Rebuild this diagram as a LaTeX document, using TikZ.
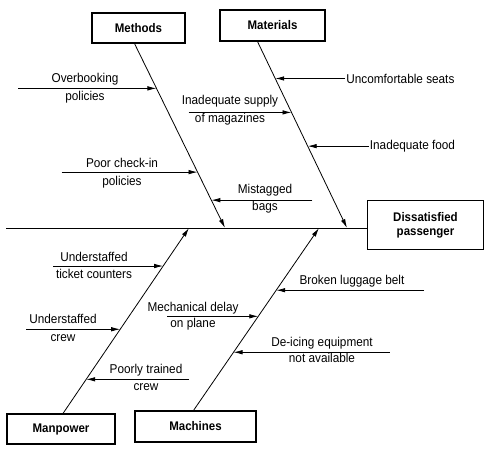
\documentclass[tikz,border=0pt]{standalone}
\usepackage{fontspec}
\setmainfont[FakeStretch=0.92]{Liberation Sans}
\usetikzlibrary{arrows.meta,positioning,calc}

\begin{document}
\begin{tikzpicture}[x=1pt,y=-1pt,
		catbox/.style={rectangle, draw, line width=1.1pt, inner sep=2pt, align=center, font=\fontsize{12.5}{14}\selectfont\bfseries},
		bone/.style={line width=0.8pt, -{Latex[length=9pt,width=4.5pt]}},
		cause/.style={inner sep=1pt, align=center, font=\fontsize{12.8}{14}\selectfont}]
		\useasboundingbox (0,0) rectangle (488,453);
		\node at (138.5,28) [catbox, minimum width=93pt, minimum height=30pt] (Methods) {Methods};
		\node at (272.5,25.5) [catbox, minimum width=105pt, minimum height=31pt] (Materials) {Materials};
		\node at (425.5,225) [catbox, minimum width=116pt, minimum height=49pt] (Effect) {Dissatisfied\\[0pt]passenger};
		\node at (61,429) [catbox, minimum width=108pt, minimum height=30pt] (Manpower) {Manpower};
		\node at (195.5,426.5) [catbox, minimum width=121pt, minimum height=31pt] (Machines) {Machines};
		\coordinate (tail) at (6,228);
		\draw[line width=0.8pt] (tail) -- (tail -| Effect.west);
		\coordinate (m0) at ([xshift=-4pt]Methods.south);
		\coordinate (m1) at (225,228);
		\coordinate (a0) at ([xshift=-15pt]Materials.south);
		\coordinate (a1) at (347,228);
		\coordinate (p0) at ([xshift=2pt]Manpower.north);
		\coordinate (p1) at (189,228);
		\coordinate (c0) at ([xshift=-2pt]Machines.north);
		\coordinate (c1) at (319,228);
		\draw[bone] (m0) -- (m1);
		\draw[bone] (a0) -- (a1);
		\draw[bone] (p0) -- (p1);
		\draw[bone] (c0) -- (c1);
		\path (m0) -- (m1) coordinate[pos=0.243] (ob) coordinate[pos=0.697] (pc) coordinate[pos=0.849] (mb);
		\path (a0) -- (a1) coordinate[pos=0.198] (us) coordinate[pos=0.380] (im) coordinate[pos=0.561] (if);
		\path (p0) -- (p1) coordinate[pos=0.795] (tc) coordinate[pos=0.454] (uc) coordinate[pos=0.184] (pt);
		\path (c0) -- (c1) coordinate[pos=0.659] (bl) coordinate[pos=0.516] (md) coordinate[pos=0.319] (de);
		\coordinate[left=138pt of ob] (ob0);
		\coordinate[left=136pt of pc] (pc0);
		\coordinate[right=101pt of mb] (mb0);
		\coordinate[right=70pt of us] (us0);
		\coordinate[left=103pt of im] (im0);
		\coordinate[right=61pt of if] (if0);
		\coordinate[left=110pt of tc] (tc0);
		\coordinate[left=94pt of uc] (uc0);
		\coordinate[right=103pt of pt] (pt0);
		\coordinate[right=148pt of bl] (bl0);
		\coordinate[left=91pt of md] (md0);
		\coordinate[right=156pt of de] (de0);
		\foreach \c in {ob,pc,mb,us,im,if,tc,uc,pt,bl,md,de}
			\draw[bone] (\c0) -- (\c);
		\node at (85,88) [cause] (obt) {Overbooking\\[4pt]policies};
		\node at (122,173) [cause] (pct) {Poor check-in\\[4pt]policies};
		\node at (265,198.5) [cause] (mbt) {Mistagged\\[3pt]bags};
		\node at (us0) [cause, anchor=west] (ust) {Uncomfortable seats};
		\node at (230,110) [cause] (imt) {Inadequate supply\\[4pt]of magazines};
		\node at (if0) [cause, anchor=west] (ift) {Inadequate food};
		\node at (94,265.5) [cause] (tct) {Understaffed\\[3pt]ticket counters};
		\node at (63,328) [cause] (uct) {Understaffed\\[4pt]crew};
		\node at (146,377.5) [cause] (ptt) {Poorly trained\\[3pt]crew};
		\node at (352,281) [cause] (blt) {Broken luggage belt};
		\node at (193,316) [cause] (mdt) {Mechanical delay\\[2pt]on plane};
		\node at (322,350) [cause] (det) {De-icing equipment\\[2pt]not available};
\end{tikzpicture}
\end{document}
